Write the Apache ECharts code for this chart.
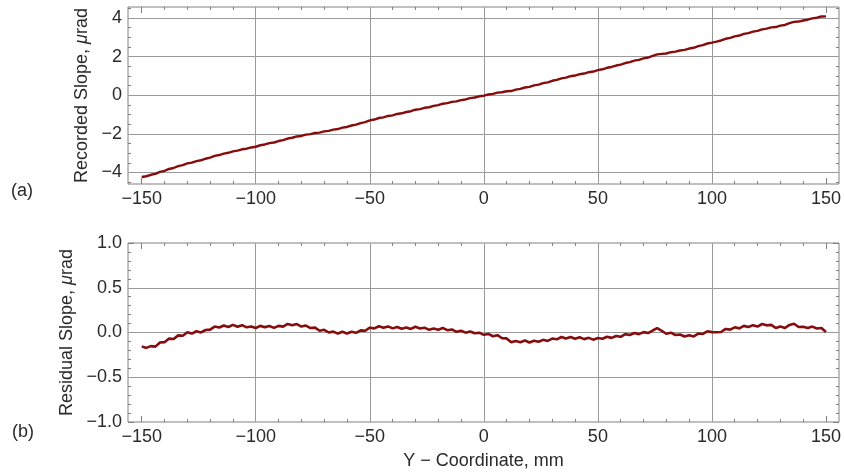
<!DOCTYPE html>
<html>
<head>
<meta charset="utf-8">
<script src="https://cdn.jsdelivr.net/npm/echarts@6/dist/echarts.min.js"></script>
<style>html,body{margin:0;padding:0;background:#fff}#c{width:844px;height:476px}</style>
</head>
<body>
<div id="c"></div>
<script>
// Y-coordinate samples, mm
const xs = [-150,-148,-146,-144,-142,-140,-138,-136,-134,-132,
 -130,-128,-126,-124,-122,-120,-118,-116,-114,-112,
 -110,-108,-106,-104,-102,-100,-98,-96,-94,-92,
 -90,-88,-86,-84,-82,-80,-78,-76,-74,-72,
 -70,-68,-66,-64,-62,-60,-58,-56,-54,-52,
 -50,-48,-46,-44,-42,-40,-38,-36,-34,-32,
 -30,-28,-26,-24,-22,-20,-18,-16,-14,-12,
 -10,-8,-6,-4,-2,0,2,4,6,8,
 10,12,14,16,18,20,22,24,26,28,
 30,32,34,36,38,40,42,44,46,48,
 50,52,54,56,58,60,62,64,66,68,
 70,72,74,76,78,80,82,84,86,88,
 90,92,94,96,98,100,102,104,106,108,
 110,112,114,116,118,120,122,124,126,128,
 130,132,134,136,138,140,142,144,146,148,
 150];
// (a) recorded slope, µrad
const recorded = [-4.235,-4.198,-4.123,-4.075,-3.974,-3.916,-3.822,-3.771,-3.677,-3.626,
 -3.534,-3.494,-3.413,-3.372,-3.290,-3.232,-3.144,-3.099,-3.023,-2.984,
 -2.907,-2.874,-2.801,-2.771,-2.706,-2.670,-2.592,-2.551,-2.485,-2.450,
 -2.374,-2.328,-2.243,-2.205,-2.136,-2.110,-2.044,-2.017,-1.959,-1.938,
 -1.874,-1.850,-1.785,-1.753,-1.678,-1.644,-1.569,-1.527,-1.445,-1.394,
 -1.306,-1.260,-1.181,-1.145,-1.074,-1.042,-0.972,-0.937,-0.869,-0.830,
 -0.752,-0.718,-0.653,-0.623,-0.554,-0.514,-0.440,-0.409,-0.347,-0.318,
 -0.252,-0.220,-0.151,-0.117,-0.056,-0.026,0.038,0.067,0.133,0.154,
 0.206,0.216,0.286,0.327,0.400,0.432,0.506,0.549,0.625,0.668,
 0.748,0.794,0.875,0.913,0.984,1.018,1.088,1.123,1.191,1.226,
 1.298,1.344,1.421,1.463,1.538,1.584,1.668,1.713,1.789,1.832,
 1.908,1.952,2.035,2.115,2.140,2.162,2.228,2.257,2.317,2.350,
 2.418,2.458,2.545,2.595,2.679,2.724,2.777,2.835,2.923,2.970,
 3.050,3.092,3.175,3.217,3.292,3.330,3.413,3.453,3.512,3.532,
 3.602,3.640,3.730,3.797,3.816,3.872,3.912,3.983,4.016,4.076,
 4.085];
// (b) residual slope, µrad
const residual = [-0.155,-0.172,-0.152,-0.158,-0.112,-0.108,-0.068,-0.072,-0.032,-0.036,
 0.002,-0.012,0.014,0.001,0.028,0.032,0.066,0.056,0.078,0.062,
 0.085,0.064,0.082,0.058,0.068,0.05,0.074,0.06,0.072,0.052,
 0.074,0.066,0.096,0.08,0.094,0.066,0.078,0.05,0.054,0.02,
 0.03,0.0,0.01,-0.012,0.008,-0.012,0.009,-0.004,0.024,0.02,
 0.054,0.046,0.07,0.052,0.068,0.046,0.062,0.042,0.056,0.04,
 0.064,0.044,0.054,0.03,0.044,0.03,0.05,0.026,0.034,0.008,
 0.02,-0.002,0.012,-0.008,-0.002,-0.026,-0.016,-0.042,-0.03,-0.064,
 -0.066,-0.11,-0.095,-0.108,-0.09,-0.112,-0.092,-0.104,-0.082,-0.094,
 -0.068,-0.076,-0.05,-0.066,-0.05,-0.07,-0.054,-0.074,-0.06,-0.08,
 -0.062,-0.07,-0.048,-0.06,-0.04,-0.048,-0.018,-0.028,-0.006,-0.018,
 0.004,-0.006,0.022,0.048,0.018,-0.014,-0.002,-0.028,-0.022,-0.044,
 -0.03,-0.044,-0.012,-0.016,0.013,0.004,0.003,0.006,0.04,0.032,
 0.058,0.046,0.074,0.062,0.082,0.066,0.095,0.08,0.085,0.05,
 0.066,0.05,0.085,0.098,0.062,0.064,0.05,0.066,0.045,0.05,
 0.005];

// tick labels / tick positions
const xMajor = [-150,-100,-50,0,50,100,150];
const xMinor = [-150,-140,-130,-120,-110,-100,-90,-80,-70,-60,-50,-40,-30,-20,-10,0,10,20,30,40,50,60,70,80,90,100,110,120,130,140,150];
const xGrid = [-100,-50,0,50,100];
const yMajorA = [-4,-2,0,2,4];
const yMinorA = [-4.5,-4,-3.5,-3,-2.5,-2,-1.5,-1,-0.5,0,0.5,1,1.5,2,2.5,3,3.5,4,4.5];
const yGridA = [-4,-2,0,2,4];
const yMajorB = [-1,-0.5,0,0.5,1];
const yMinorB = [-1,-0.9,-0.8,-0.7,-0.6,-0.5,-0.4,-0.3,-0.2,-0.1,0,0.1,0.2,0.3,0.4,0.5,0.6,0.7,0.8,0.9,1];
const yGridB = [-0.5,0,0.5];

const FONT = 'Liberation Sans, Arial, sans-serif';
const TXT = '#2a2a2a';
const FRAME = '#808080';
const GRIDC = '#9a9a9a';
const LINEC = '#850d0d';
const FS = 18;

const X_MIN = -156, X_MAX = 155.7;
const YA = [-4.6, 4.57], YB = [-1, 1];

function minusFmt(v, digits) {
  const s = digits ? Math.abs(v).toFixed(digits) : String(Math.abs(v));
  return (v < -1e-9 ? '\u2212' : '') + s;
}

function xAx(grid, pos, vals, len, labels, extra) {
  return Object.assign({
    type: 'value', gridIndex: grid, position: pos, min: X_MIN, max: X_MAX,
    axisLine: {show: false, onZero: false},
    axisTick: {show: true, inside: true, length: len, customValues: vals, lineStyle: {color: FRAME, width: 1}},
    axisLabel: labels ? {show: true, customValues: xMajor, margin: 6, fontFamily: FONT, fontSize: FS, color: TXT,
      formatter: v => minusFmt(v, 0)} : {show: false},
    splitLine: {show: false}, minorTick: {show: false}, minorSplitLine: {show: false}
  }, extra || {});
}
function yAx(grid, pos, range, vals, len, labels, digits, extra) {
  return Object.assign({
    type: 'value', gridIndex: grid, position: pos, min: range[0], max: range[1],
    axisLine: {show: false, onZero: false},
    axisTick: {show: true, inside: true, length: len, customValues: vals, lineStyle: {color: FRAME, width: 1}},
    axisLabel: labels ? {show: true, customValues: labels, margin: 6, fontFamily: FONT, fontSize: FS, color: TXT,
      formatter: v => minusFmt(v, digits)} : {show: false},
    splitLine: {show: false}, minorTick: {show: false}, minorSplitLine: {show: false}
  }, extra || {});
}

const nameStyle = (extra) => Object.assign({
  fontFamily: FONT, fontSize: FS, color: TXT,
  rich: {mu: {fontFamily: FONT, fontSize: FS, color: TXT, fontStyle: 'italic'}}
}, extra || {});

const option = {
  animation: false,
  backgroundColor: '#fff',
  grid: [
    {left: 128, top: 7, width: 713, height: 177, show: true, borderColor: FRAME, borderWidth: 1, backgroundColor: 'transparent'},
    {left: 128, top: 243, width: 713, height: 179, show: true, borderColor: FRAME, borderWidth: 1, backgroundColor: 'transparent'}
  ],
  xAxis: [
    xAx(0, 'bottom', xMajor, 6, true),
    xAx(0, 'bottom', xMinor, 3, false),
    xAx(0, 'top', xMajor, 6, false),
    xAx(0, 'top', xMinor, 3, false),
    xAx(1, 'bottom', xMajor, 6, true, {name: 'Y \u2212 Coordinate, mm', nameLocation: 'middle', nameGap: 30, nameTextStyle: nameStyle()}),
    xAx(1, 'bottom', xMinor, 3, false),
    xAx(1, 'top', xMajor, 6, false),
    xAx(1, 'top', xMinor, 3, false)
  ],
  yAxis: [
    yAx(0, 'left', YA, yMajorA, 6, yMajorA, 0, {name: 'Recorded Slope, {mu|\u03bc}rad', nameLocation: 'middle', nameRotate: 90, nameGap: 34, nameTextStyle: nameStyle()}),
    yAx(0, 'left', YA, yMinorA, 3, null, 0),
    yAx(0, 'right', YA, yMajorA, 6, null, 0),
    yAx(0, 'right', YA, yMinorA, 3, null, 0),
    yAx(1, 'left', YB, yMajorB, 6, yMajorB, 1, {name: 'Residual Slope, {mu|\u03bc}rad', nameLocation: 'middle', nameRotate: 90, nameGap: 50, nameTextStyle: nameStyle()}),
    yAx(1, 'left', YB, yMinorB, 3, null, 1),
    yAx(1, 'right', YB, yMajorB, 6, null, 1),
    yAx(1, 'right', YB, yMinorB, 3, null, 1)
  ],
  graphic: [
    {type: 'text', left: 11, top: 182, style: {text: '(a)', fontFamily: FONT, fontSize: FS, fill: TXT}},
    {type: 'text', left: 12, top: 423, style: {text: '(b)', fontFamily: FONT, fontSize: FS, fill: TXT}}
  ],
  series: [
    {type: 'line', xAxisIndex: 0, yAxisIndex: 0, data: [], z: 1, silent: true,
     markLine: {silent: true, symbol: ['none', 'none'], label: {show: false}, animation: false,
       lineStyle: {color: GRIDC, width: 1, type: 'solid'},
       data: xGrid.map(v => ({xAxis: v})).concat(yGridA.map(v => ({yAxis: v})))}},
    {type: 'line', xAxisIndex: 4, yAxisIndex: 4, data: [], z: 1, silent: true,
     markLine: {silent: true, symbol: ['none', 'none'], label: {show: false}, animation: false,
       lineStyle: {color: GRIDC, width: 1, type: 'solid'},
       data: xGrid.map(v => ({xAxis: v})).concat(yGridB.map(v => ({yAxis: v})))}},
    {type: 'line', xAxisIndex: 0, yAxisIndex: 0, zlevel: 1, z: 3, showSymbol: false, symbol: 'none',
     lineStyle: {color: LINEC, width: 2.4}, data: xs.map((x, i) => [x, recorded[i]])},
    {type: 'line', xAxisIndex: 4, yAxisIndex: 4, zlevel: 1, z: 3, showSymbol: false, symbol: 'none',
     lineStyle: {color: LINEC, width: 2.6}, data: xs.map((x, i) => [x, residual[i]])}
  ]
};

const chart = echarts.init(document.getElementById('c'), null, {renderer: 'canvas'});
chart.setOption(option);
</script>
</body>
</html>
